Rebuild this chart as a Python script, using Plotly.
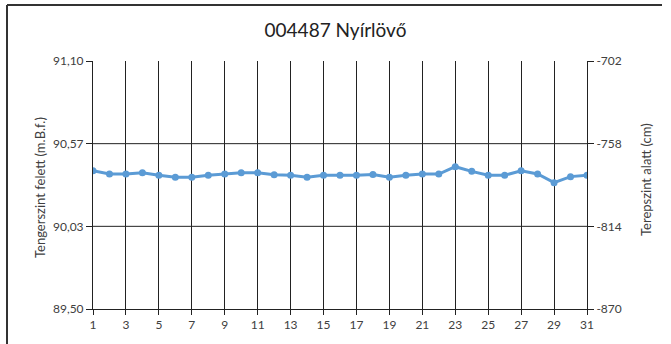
import plotly.graph_objects as go

# Daily groundwater level, station 004487 Nyírlövő
days = list(range(1, 32))
level_m = [90.392, 90.371, 90.371, 90.379, 90.363, 90.350, 90.350, 90.363,
           90.371, 90.379, 90.379, 90.366, 90.363, 90.350, 90.363, 90.363,
           90.363, 90.368, 90.350, 90.363, 90.371, 90.371, 90.418, 90.388,
           90.363, 90.363, 90.392, 90.371, 90.315, 90.354, 90.363]

x_ticks = list(range(1, 32, 2))
left_ticks = [89.5, 90.0333, 90.5667, 91.1]
left_labels = ["89,50", "90,03", "90,57", "91,10"]
right_ticks = [-870, -814, -758, -702]
right_labels = ["-870", "-814", "-758", "-702"]

W, H = 671, 344
L, R, T, B = 93, 84, 61, 35
pw, ph = W - L - R, H - T - B

def px_x(p):
    return (p - L) / pw

def px_y(p):
    return (H - B - p) / ph

blue = "#5B9BD5"
font = "Lato, 'Open Sans', sans-serif"

fig = go.Figure()
fig.add_trace(go.Scatter(
    x=days, y=level_m, mode="lines+markers",
    line=dict(color=blue, width=3),
    marker=dict(color=blue, size=7),
    showlegend=False, hoverinfo="x+y",
))

fig.update_layout(
    width=W, height=H,
    margin=dict(l=L, r=R, t=T, b=B),
    paper_bgcolor="white", plot_bgcolor="white",
    font=dict(family=font, size=12, color="#404040"),
    title=dict(text="004487 Nyírlövő", x=0.5, xanchor="center",
               y=1 - 30 / H, yanchor="middle",
               font=dict(family=font, size=19, color="#222222")),
    xaxis=dict(range=[1, 31], tickvals=x_ticks, ticktext=[str(v) for v in x_ticks],
               showgrid=True, gridcolor="#222222", gridwidth=1,
               showline=True, linecolor="#222222", linewidth=1,
               ticks="outside", ticklen=5, tickcolor="#222222",
               zeroline=False, fixedrange=True),
    yaxis=dict(range=[89.5, 91.1], tickvals=left_ticks, ticktext=left_labels,
               showgrid=False, showline=True, linecolor="#222222", linewidth=1,
               ticks="outside", ticklen=6, tickcolor="#222222",
               zeroline=False),
    yaxis2=dict(range=[-870, -702], tickvals=right_ticks, ticktext=right_labels,
                overlaying="y", side="right", showgrid=False,
                showline=True, linecolor="#222222", linewidth=1,
                ticks="outside", ticklen=6, tickcolor="#222222",
                zeroline=False),
)

# horizontal gridlines at the inner level ticks
for v in left_ticks[1:-1]:
    fig.add_shape(type="line", xref="paper", yref="y", x0=0, x1=1, y0=v, y1=v,
                  line=dict(color="#222222", width=1), layer="below")

# outer chart frame (left and top edges)
fig.add_shape(type="line", xref="paper", yref="paper",
              x0=px_x(7), x1=px_x(7), y0=px_y(5), y1=px_y(H + 2),
              line=dict(color="#333333", width=2))
fig.add_shape(type="line", xref="paper", yref="paper",
              x0=px_x(7), x1=px_x(662), y0=px_y(5), y1=px_y(5),
              line=dict(color="#333333", width=2))

fig.add_annotation(text="Tengerszint felett (m.B.f.)", xref="paper", yref="paper",
                   x=px_x(40), y=px_y(188), textangle=-90, showarrow=False,
                   xanchor="center", yanchor="middle",
                   font=dict(family=font, size=13, color="#404040"))
fig.add_annotation(text="Terepszint alatt (cm)", xref="paper", yref="paper",
                   x=px_x(646), y=px_y(180), textangle=-90, showarrow=False,
                   xanchor="center", yanchor="middle",
                   font=dict(family=font, size=13, color="#404040"))

# keep the secondary axis drawn
fig.add_trace(go.Scatter(x=[None], y=[None], yaxis="y2", showlegend=False,
                         hoverinfo="skip"))

fig.write_html("out.html")
